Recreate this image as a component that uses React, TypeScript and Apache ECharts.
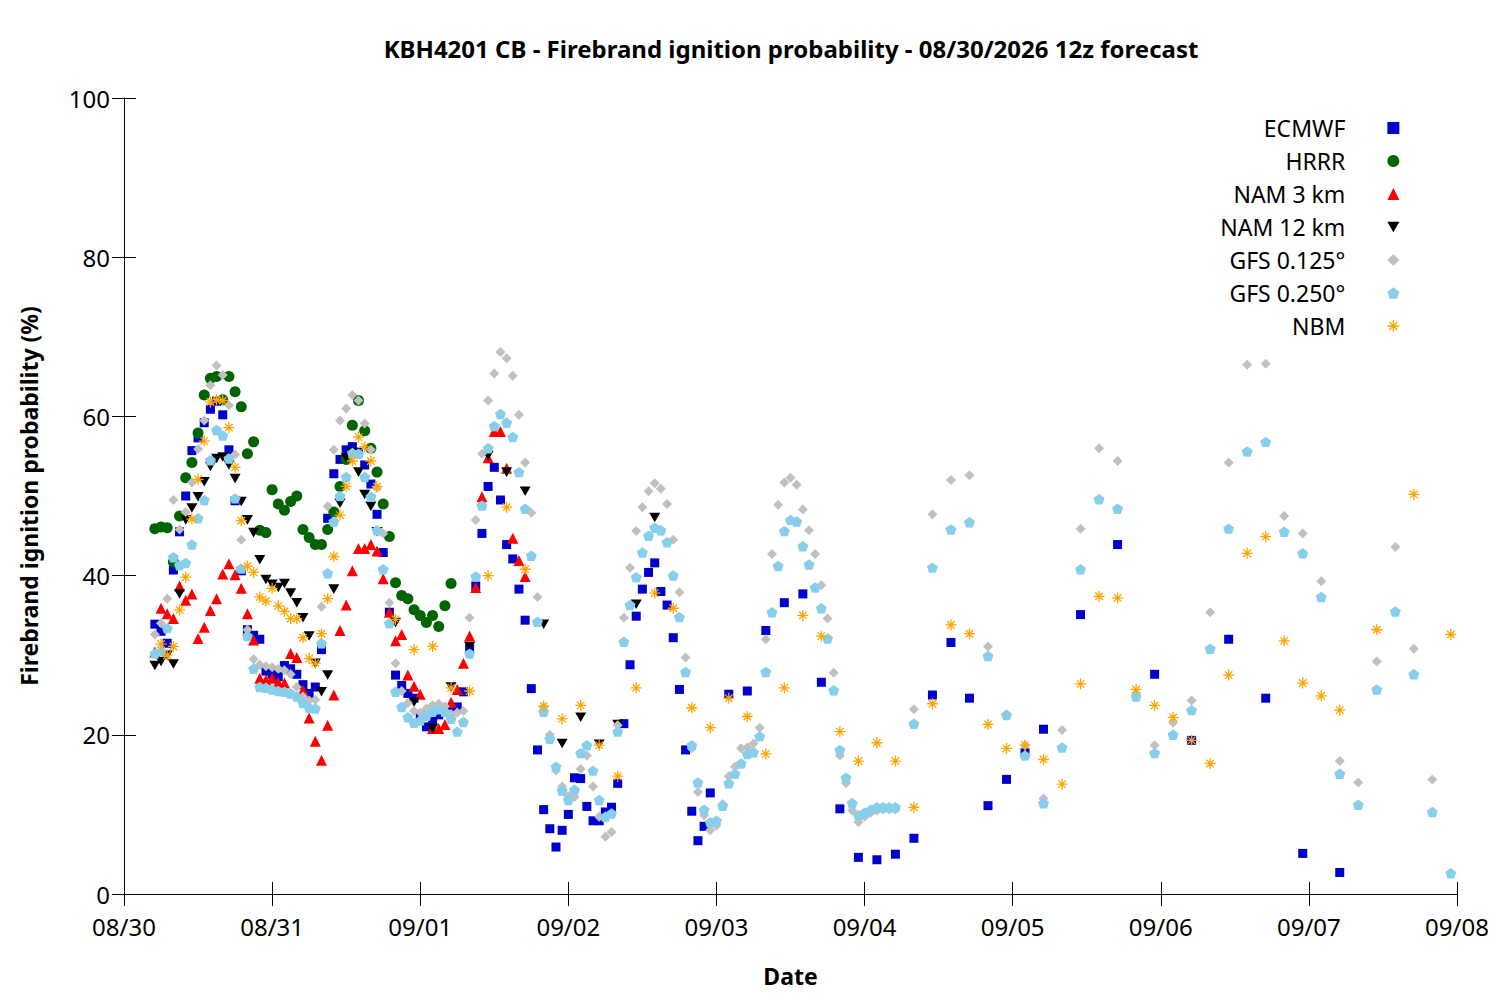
import { useEffect, useRef } from "react";
import * as echarts from "echarts";

const FONT = "'Noto Sans', 'Open Sans', sans-serif";

const TITLE = "KBH4201 CB - Firebrand ignition probability - 08/30/2026 12z forecast";
const DATE_LABELS = ["08/30", "08/31", "09/01", "09/02", "09/03", "09/04", "09/05", "09/06", "09/07", "09/08"];

// [hours after 08/30 00:00, probability %]
const ECMWF = [
  [5, 33.9], [6, 33.0], [7, 31.5], [8, 40.7], [9, 45.5], [10, 50.0], [11, 55.7], [12, 57.3], [13, 59.2], [14, 60.9],
  [15, 61.9], [16, 60.2], [17, 55.8], [18, 49.4], [19, 40.6], [20, 33.2], [21, 32.5], [22, 32.0], [23, 28.0], [24, 27.6],
  [25, 27.3], [26, 28.7], [27, 28.3], [28, 27.6], [29, 26.3], [30, 25.2], [31, 26.0], [32, 30.7], [33, 47.2], [34, 52.8],
  [35, 54.6], [36, 55.8], [37, 56.2], [38, 55.5], [39, 53.9], [40, 51.5], [41, 47.7], [42, 42.9], [43, 35.4], [44, 27.5],
  [45, 26.2], [46, 25.2], [47, 24.6], [48, 22.5], [49, 21.0], [50, 21.8], [51, 22.5], [52, 23.2], [53, 23.0], [54, 23.5],
  [55, 25.4], [56, 30.8], [57, 38.7], [58, 45.3], [59, 51.2], [60, 53.6], [61, 49.5], [62, 43.9], [63, 42.1], [64, 38.3],
  [65, 34.4], [66, 25.8], [67, 18.1], [68, 10.6], [69, 8.2], [70, 5.9], [71, 8.0], [72, 10.0], [73, 14.6], [74, 14.5],
  [75, 11.0], [76, 9.2], [77, 9.2], [78, 10.3], [79, 10.9], [80, 13.9], [81, 21.4], [82, 28.8], [83, 34.9], [84, 38.3],
  [85, 40.4], [86, 41.6], [87, 38.0], [88, 36.3], [89, 32.2], [90, 25.7], [91, 18.1], [92, 10.4], [93, 6.7], [94, 8.5],
  [95, 12.7], [98, 25.1], [101, 25.5], [104, 33.1], [107, 36.6], [110, 37.7], [113, 26.6], [116, 10.7], [119, 4.6],
  [122, 4.3], [125, 5.0], [128, 7.0], [131, 25.0], [134, 31.6], [137, 24.6], [140, 11.1], [143, 14.4], [146, 17.8],
  [149, 20.7], [155, 35.1], [161, 43.9], [167, 27.6], [173, 19.3], [179, 32.0], [185, 24.6], [191, 5.1], [197, 2.7],
];

const HRRR = [
  [5, 45.9], [6, 46.1], [7, 46.0], [8, 41.7], [9, 47.5], [10, 52.3], [11, 54.2], [12, 57.9], [13, 62.7], [14, 64.8],
  [15, 65.0], [16, 62.1], [17, 65.0], [18, 63.1], [19, 61.2], [20, 55.3], [21, 56.8], [22, 45.7], [23, 45.4], [24, 50.8],
  [25, 49.0], [26, 48.2], [27, 49.3], [28, 50.0], [29, 45.8], [30, 44.8], [31, 43.9], [32, 43.9], [33, 45.8], [34, 48.0],
  [35, 51.2], [36, 54.6], [37, 58.9], [38, 62.0], [39, 58.2], [40, 56.0], [41, 53.0], [42, 49.0], [43, 44.9], [44, 39.1],
  [45, 37.5], [46, 37.1], [47, 35.7], [48, 35.0], [49, 34.1], [50, 35.0], [51, 33.6], [52, 36.2], [53, 39.0],
];

const NAM3 = [
  [5, 30.4], [6, 35.9], [7, 35.2], [8, 34.6], [9, 38.7], [10, 36.9], [11, 37.7], [12, 32.1], [13, 33.5], [14, 35.6],
  [15, 37.1], [16, 40.2], [17, 41.5], [18, 40.1], [19, 38.4], [20, 35.2], [21, 31.9], [22, 27.1], [23, 26.9], [24, 27.1],
  [25, 26.6], [26, 26.5], [27, 30.2], [28, 29.7], [29, 25.6], [30, 22.1], [31, 19.2], [32, 16.8], [33, 21.2], [34, 25.0],
  [35, 33.1], [36, 36.3], [37, 40.6], [38, 43.4], [39, 43.4], [40, 43.9], [41, 43.1], [42, 39.6], [43, 35.4], [44, 31.8],
  [45, 32.6], [46, 27.5], [47, 26.1], [48, 25.1], [49, 23.0], [50, 20.8], [51, 20.8], [52, 21.3], [53, 24.1], [54, 25.7],
  [55, 29.0], [56, 32.4], [57, 38.5], [58, 49.9], [59, 54.8], [60, 58.1], [61, 58.1], [62, 53.5], [63, 44.7], [64, 41.9],
  [65, 39.9],
];

const NAM12 = [
  [5, 28.7], [6, 29.2], [7, 30.0], [8, 28.9], [9, 37.7], [10, 47.0], [11, 48.5], [12, 49.9], [13, 51.8], [14, 53.7],
  [15, 54.7], [16, 54.9], [17, 53.9], [18, 52.2], [19, 49.3], [20, 47.0], [21, 45.4], [22, 42.0], [23, 39.5], [24, 38.9],
  [25, 38.5], [26, 39.0], [27, 37.8], [28, 36.6], [29, 34.7], [30, 32.4], [31, 29.0], [32, 25.4], [33, 27.5], [34, 38.3],
  [35, 49.1], [36, 54.8], [37, 55.5], [38, 53.0], [39, 50.2], [40, 48.7], [41, 45.5], [44, 34.1], [47, 24.1], [50, 20.8],
  [53, 26.0], [56, 31.1], [59, 55.1], [62, 53.0], [65, 50.6], [68, 33.9], [71, 18.9], [74, 22.2], [77, 18.8], [80, 21.3],
  [83, 36.4], [86, 47.3],
];

const GFS_0125 = [
  [5, 32.6], [6, 34.0], [7, 37.1], [8, 49.5], [9, 45.8], [10, 48.0], [11, 51.7], [12, 55.9], [13, 59.5], [14, 63.9],
  [15, 66.4], [16, 65.2], [17, 61.4], [18, 55.2], [19, 44.5], [20, 33.2], [21, 29.5], [22, 28.8], [23, 28.6], [24, 28.5],
  [25, 28.3], [26, 28.1], [27, 27.6], [28, 26.0], [29, 24.8], [30, 24.3], [31, 24.4], [32, 36.1], [33, 48.7], [34, 55.8],
  [35, 59.5], [36, 61.0], [37, 62.7], [38, 62.0], [39, 59.1], [40, 55.8], [41, 51.0], [42, 45.3], [43, 36.6], [44, 29.0],
  [45, 25.5], [46, 24.0], [47, 23.0], [48, 22.8], [49, 23.3], [50, 23.7], [51, 23.9], [52, 23.6], [53, 22.6], [54, 22.8],
  [55, 23.0], [56, 34.7], [57, 47.0], [58, 55.3], [59, 62.0], [60, 65.4], [61, 68.1], [62, 67.3], [63, 65.1], [64, 60.2],
  [65, 54.2], [66, 47.9], [67, 37.3], [68, 23.5], [69, 20.0], [70, 15.5], [71, 13.5], [72, 12.3], [73, 12.2], [74, 15.7],
  [75, 17.4], [76, 13.5], [77, 9.7], [78, 7.2], [79, 7.8], [80, 21.2], [81, 34.7], [82, 41.0], [83, 45.6], [84, 48.6],
  [85, 50.6], [86, 51.6], [87, 50.9], [88, 49.0], [89, 44.5], [90, 37.9], [91, 29.7], [92, 18.3], [93, 12.8], [94, 9.9],
  [95, 8.0], [96, 8.6], [97, 11.3], [98, 14.8], [99, 16.0], [100, 18.3], [101, 18.4], [102, 18.9], [103, 20.9], [104, 32.0],
  [105, 42.7], [106, 48.9], [107, 51.7], [108, 52.3], [109, 51.4], [110, 48.3], [111, 45.7], [112, 42.7], [113, 38.8],
  [114, 34.6], [115, 27.8], [116, 17.4], [117, 13.9], [118, 10.5], [119, 9.0], [120, 9.7], [121, 10.2], [122, 10.5],
  [123, 10.6], [124, 10.6], [125, 10.6], [128, 23.2], [131, 47.7], [134, 52.0], [137, 52.6], [140, 31.1], [143, 22.6],
  [146, 18.7], [149, 12.0], [152, 20.6], [155, 45.9], [158, 56.0], [161, 54.4], [164, 25.2], [167, 18.7], [170, 21.5],
  [173, 24.3], [176, 35.4], [179, 54.2], [182, 66.5], [185, 66.6], [188, 47.5], [191, 45.3], [194, 39.3], [197, 16.7],
  [200, 14.0], [203, 29.2], [206, 43.6], [209, 30.8], [212, 14.4],
];

const GFS_0250 = [
  [5, 30.2], [6, 30.5], [7, 33.4], [8, 42.3], [9, 41.3], [10, 41.6], [11, 43.9], [12, 47.2], [13, 49.5], [14, 54.5],
  [15, 58.3], [16, 57.6], [17, 54.7], [18, 49.7], [19, 40.9], [20, 32.4], [21, 28.3], [22, 26.0], [23, 25.9], [24, 25.7],
  [25, 25.5], [26, 25.4], [27, 25.2], [28, 24.8], [29, 24.0], [30, 23.4], [31, 23.3], [32, 31.5], [33, 40.3], [34, 46.8],
  [35, 50.0], [36, 52.4], [37, 55.4], [38, 55.3], [39, 52.4], [40, 49.9], [41, 45.7], [42, 40.8], [43, 34.0], [44, 25.4],
  [45, 23.5], [46, 22.2], [47, 21.5], [48, 21.8], [49, 22.4], [50, 22.9], [51, 23.2], [52, 22.9], [53, 22.0], [54, 20.4],
  [55, 21.6], [56, 30.2], [57, 39.9], [58, 48.8], [59, 56.0], [60, 58.8], [61, 60.3], [62, 59.2], [63, 57.4], [64, 53.0],
  [65, 48.4], [66, 42.5], [67, 34.2], [68, 22.9], [69, 19.5], [70, 16.0], [71, 13.0], [72, 11.8], [73, 13.1], [74, 17.7],
  [75, 18.7], [76, 15.5], [77, 11.8], [78, 9.7], [79, 10.1], [80, 20.4], [81, 31.7], [82, 36.3], [83, 39.8], [84, 42.9],
  [85, 45.0], [86, 46.0], [87, 45.7], [88, 44.2], [89, 40.0], [90, 34.8], [91, 27.9], [92, 18.7], [93, 14.0], [94, 10.6],
  [95, 9.0], [96, 9.2], [97, 11.1], [98, 13.9], [99, 15.1], [100, 16.4], [101, 17.6], [102, 17.8], [103, 19.8], [104, 27.9],
  [105, 35.4], [106, 41.2], [107, 45.6], [108, 47.0], [109, 46.8], [110, 43.7], [111, 41.4], [112, 38.5], [113, 35.9],
  [114, 32.1], [115, 25.6], [116, 18.1], [117, 14.6], [118, 11.4], [119, 9.9], [120, 10.2], [121, 10.6], [122, 10.9],
  [123, 10.9], [124, 10.9], [125, 10.9], [128, 21.4], [131, 41.0], [134, 45.8], [137, 46.7], [140, 29.9], [143, 22.5],
  [146, 17.4], [149, 11.4], [152, 18.4], [155, 40.8], [158, 49.6], [161, 48.4], [164, 24.8], [167, 17.7], [170, 20.0],
  [173, 23.1], [176, 30.8], [179, 45.9], [182, 55.6], [185, 56.8], [188, 45.5], [191, 42.8], [194, 37.3], [197, 15.1],
  [200, 11.2], [203, 25.7], [206, 35.5], [209, 27.6], [212, 10.3], [215, 2.6],
];

const NBM = [
  [6, 31.4], [7, 30.0], [8, 31.1], [9, 35.7], [10, 39.8], [11, 47.1], [12, 52.1], [13, 56.9], [14, 61.8], [15, 62.1],
  [16, 62.0], [17, 58.6], [18, 53.6], [19, 46.9], [20, 41.2], [21, 40.4], [22, 37.3], [23, 36.8], [24, 38.4], [25, 36.2],
  [26, 35.5], [27, 34.6], [28, 34.6], [29, 32.2], [30, 29.6], [31, 29.0], [32, 32.7], [33, 37.1], [34, 42.4], [35, 47.6],
  [36, 51.2], [37, 54.4], [38, 57.4], [39, 56.2], [40, 54.4], [41, 51.2], [44, 34.5], [47, 30.7], [50, 31.1], [53, 25.9],
  [56, 25.5], [59, 40.0], [62, 48.6], [65, 40.8], [68, 23.6], [71, 22.0], [74, 23.7], [77, 18.7], [80, 14.8], [83, 25.9],
  [86, 37.8], [89, 35.9], [92, 23.4], [95, 20.9], [98, 24.6], [101, 22.3], [104, 17.6], [107, 25.9], [110, 35.0],
  [113, 32.4], [116, 20.4], [119, 16.7], [122, 19.0], [125, 16.7], [128, 10.9], [131, 23.9], [134, 33.8], [137, 32.7],
  [140, 21.3], [143, 18.3], [146, 18.7], [149, 16.9], [152, 13.8], [155, 26.4], [158, 37.4], [161, 37.2], [164, 25.7],
  [167, 23.7], [170, 22.2], [173, 19.3], [176, 16.4], [179, 27.5], [182, 42.8], [185, 44.9], [188, 31.8], [191, 26.5],
  [194, 24.9], [197, 23.1], [203, 33.2], [209, 50.2], [215, 32.6],
];

const PENTAGON = "path://M0,-1L0.951,-0.309L0.588,0.809L-0.588,0.809L-0.951,-0.309Z";
const DOWN_TRIANGLE = "path://M0,0L10,0L5,8.66Z";
const ASTERISK = "path://M0,5L10,5M5,0L5,10M1.6,1.6L8.4,8.4M8.4,1.6L1.6,8.4";

const MODELS = [
  { name: "ECMWF", data: ECMWF, symbol: "rect", size: 9, color: "#0000CC" },
  { name: "HRRR", data: HRRR, symbol: "circle", size: 11, color: "#006400" },
  { name: "NAM 3 km", data: NAM3, symbol: "triangle", size: 11, color: "#FF0000" },
  { name: "NAM 12 km", data: NAM12, symbol: DOWN_TRIANGLE, size: 11, color: "#000000" },
  { name: "GFS 0.125°", data: GFS_0125, symbol: "diamond", size: 10, color: "#C0C0C0" },
  { name: "GFS 0.250°", data: GFS_0250, symbol: PENTAGON, size: 11, color: "#87CEEB" },
  { name: "NBM", data: NBM, symbol: ASTERISK, size: 11, color: "#FFA500", stroke: true },
];

const axisLine = { show: true, lineStyle: { color: "#000", width: 1 } };
const axisTick = { show: true, inside: true, length: 12, lineStyle: { color: "#000", width: 1 } };
const nameStyle = { fontSize: 23, fontWeight: "bold" as const, color: "#000", fontFamily: FONT };

export default function App() {
  const ref = useRef<HTMLDivElement>(null);

  useEffect(() => {
    if (!ref.current) return;
    const chart = echarts.init(ref.current, undefined, { renderer: "svg" });
    chart.setOption({
      animation: false,
      backgroundColor: "#fff",
      textStyle: { fontFamily: FONT },
      title: {
        text: TITLE,
        left: 791,
        top: 36,
        textAlign: "center",
        padding: 0,
        textStyle: { fontSize: 24, fontWeight: "bold", color: "#000", fontFamily: FONT },
      },
      grid: { left: 124, right: 43, top: 98, bottom: 106 },
      legend: {
        orient: "vertical",
        align: "right",
        right: 100,
        top: 116,
        padding: 0,
        itemWidth: 12,
        itemHeight: 12,
        itemGap: 9,
        selectedMode: false,
        textStyle: { fontSize: 23, color: "#000", fontFamily: FONT, lineHeight: 24, padding: [0, 37, 0, 0] },
        data: MODELS.map((m) => ({
          name: m.name,
          itemStyle: m.stroke ? { borderWidth: 1.3 } : { borderWidth: 0 },
        })),
      },
      xAxis: [
        {
          type: "value",
          position: "bottom",
          min: 0,
          max: 216,
          interval: 24,
          name: "Date",
          nameLocation: "middle",
          nameGap: 70,
          nameTextStyle: nameStyle,
          axisLine,
          axisTick,
          splitLine: { show: false },
          axisLabel: {
            color: "#000",
            fontSize: 24,
            fontFamily: FONT,
            margin: 20,
            formatter: (v: number) => DATE_LABELS[Math.round(v / 24)] ?? "",
          },
        },
        {
          type: "value",
          position: "top",
          min: 0,
          max: 216,
          interval: 24,
          axisLine,
          axisTick,
          axisLabel: { show: false },
          splitLine: { show: false },
        },
      ],
      yAxis: [
        {
          type: "value",
          position: "left",
          min: 0,
          max: 100,
          interval: 20,
          name: "Firebrand ignition probability (%)",
          nameLocation: "middle",
          nameGap: 84,
          nameTextStyle: nameStyle,
          axisLine,
          axisTick,
          splitLine: { show: false },
          axisLabel: { color: "#000", fontSize: 24, fontFamily: FONT, margin: 14 },
        },
        {
          type: "value",
          position: "right",
          min: 0,
          max: 100,
          interval: 20,
          axisLine,
          axisTick,
          axisLabel: { show: false },
          splitLine: { show: false },
        },
      ],
      series: MODELS.map((m) => ({
        name: m.name,
        type: "scatter",
        data: m.data,
        symbol: m.symbol,
        symbolSize: m.size,
        symbolKeepAspect: true,
        silent: true,
        itemStyle: m.stroke
          ? { color: "rgba(0,0,0,0)", borderColor: m.color, borderWidth: 1.3, opacity: 1 }
          : { color: m.color, opacity: 1 },
      })),
    });
    return () => chart.dispose();
  }, []);

  return (
    <div
      ref={ref}
      style={{ position: "fixed", left: 0, top: 0, width: 1500, height: 1000, background: "#fff" }}
    />
  );
}
